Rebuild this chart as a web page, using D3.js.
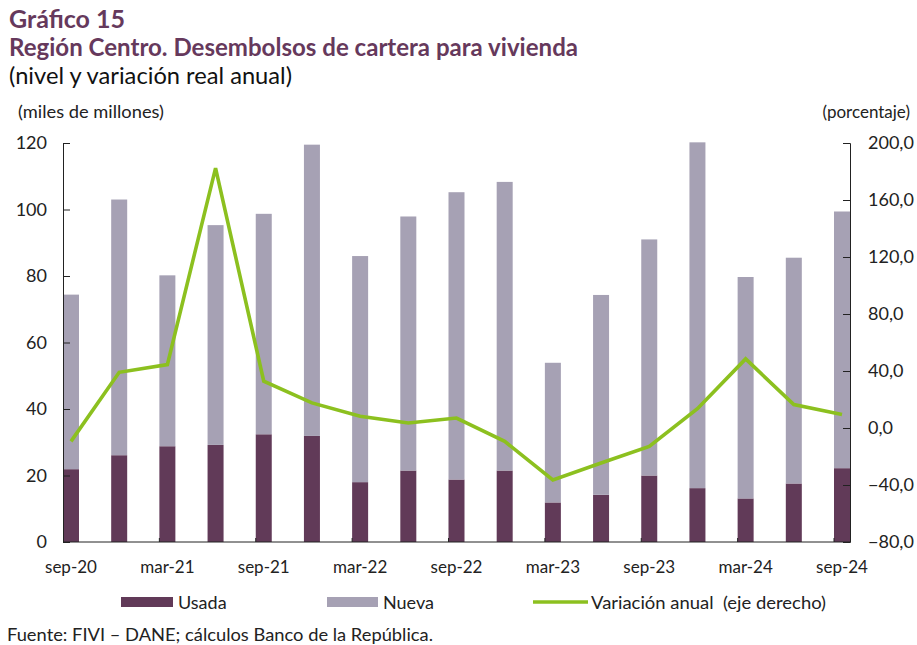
<!DOCTYPE html>
<html>
<head>
<meta charset="utf-8">
<script src="https://cdn.jsdelivr.net/npm/d3@7"></script>
<style>
  body { margin: 0; background: #fff; }
  svg text { font-family: Lato, "Open Sans", sans-serif; }
</style>
</head>
<body>
<div id="chart"></div>
<script>
const quarters = ["sep-20","dic-20","mar-21","jun-21","sep-21","dic-21","mar-22","jun-22","sep-22","dic-22","mar-23","jun-23","sep-23","dic-23","mar-24","jun-24","sep-24"];
const usada = [21.9, 26.1, 28.8, 29.2, 32.4, 31.9, 18.0, 21.5, 18.8, 21.5, 11.9, 14.2, 20.0, 16.2, 13.1, 17.6, 22.2];
const nueva = [52.5, 76.9, 51.4, 66.1, 66.3, 87.6, 68.0, 76.4, 86.4, 86.8, 42.0, 60.1, 71.0, 104.0, 66.6, 67.9, 77.2];
const variacion = [-9.4, 39.1, 44.5, 182.4, 32.8, 17.6, 8.2, 3.5, 7.0, -9.4, -36.4, -24.6, -12.9, 13.5, 48.5, 16.4, 9.4];
const leftTicks = [0, 20, 40, 60, 80, 100, 120];
const rightTicks = [-80, -40, 0, 40, 80, 120, 160, 200];

const colUsada = "#613a58", colNueva = "#a6a1b4", colLine = "#8cc01f", colTitle = "#66395c";

const width = 917, height = 645;
const svg = d3.select("#chart").append("svg")
    .attr("width", width)
    .attr("height", height);

const plot = { left: 63, right: 850, top: 143, bottom: 542 };

const x = d3.scalePoint()
    .domain(quarters)
    .range([plot.left, plot.right])
    .padding(0.166);
const barW = 16;

const y = d3.scaleLinear().domain([0, 120]).range([plot.bottom, plot.top]);
const y2 = d3.scaleLinear().domain([-80, 200]).range([plot.bottom, plot.top]);

// titles
svg.append("text").attr("x", 9).attr("y", 28)
    .attr("font-size", 24).attr("font-weight", "bold").attr("fill", colTitle)
    .attr("textLength", 116).attr("lengthAdjust", "spacingAndGlyphs")
    .text("Gráfico 15");
svg.append("text").attr("x", 9).attr("y", 56)
    .attr("font-size", 24).attr("font-weight", "bold").attr("fill", colTitle)
    .attr("textLength", 569).attr("lengthAdjust", "spacingAndGlyphs")
    .text("Región Centro. Desembolsos de cartera para vivienda");
svg.append("text").attr("x", 9).attr("y", 84)
    .attr("font-size", 23).attr("fill", "#111")
    .attr("textLength", 283).attr("lengthAdjust", "spacingAndGlyphs")
    .text("(nivel y variación real anual)");
svg.append("text").attr("x", 18).attr("y", 118)
    .attr("font-size", 17).attr("fill", "#222")
    .attr("textLength", 146).attr("lengthAdjust", "spacingAndGlyphs")
    .text("(miles de millones)");
svg.append("text").attr("x", 910).attr("y", 118).attr("text-anchor", "end")
    .attr("font-size", 17).attr("fill", "#222")
    .text("(porcentaje)");

// bars
const stackData = quarters.map((q, i) => ({ q, usada: usada[i], nueva: nueva[i] }));
const series = d3.stack().keys(["usada", "nueva"])(stackData);
const colors = { usada: colUsada, nueva: colNueva };

svg.append("g").selectAll("g")
    .data(series)
    .join("g")
    .attr("fill", d => colors[d.key])
    .selectAll("rect")
    .data(d => d)
    .join("rect")
    .attr("x", d => x(d.data.q) - barW / 2)
    .attr("width", barW)
    .attr("y", d => y(d[1]))
    .attr("height", d => y(d[0]) - y(d[1]));

// axes
const axisL = svg.append("g").attr("transform", `translate(${plot.left},0)`)
    .call(d3.axisLeft(y).tickValues(leftTicks).tickSize(-7).tickPadding(16).tickFormat(d3.format("d")));
const axisR = svg.append("g").attr("transform", `translate(${plot.right},0)`)
    .call(d3.axisRight(y2).tickValues(rightTicks).tickSize(-7).tickPadding(18)
        .tickFormat(d => d3.format(".1f")(d).replace(".", ",")));
[axisL, axisR].forEach(a => {
    a.select(".domain").attr("stroke", "#222");
    a.selectAll(".tick line").attr("stroke", "#222");
    a.selectAll("text").attr("font-size", 18).attr("fill", "#222")
        .style("font-family", "Lato, sans-serif");
});

// x axis baseline, ticks and labels
const xg = svg.append("g");
xg.append("line")
    .attr("x1", plot.left).attr("x2", plot.right)
    .attr("y1", plot.bottom).attr("y2", plot.bottom)
    .attr("stroke", "#222");
const labelled = quarters.filter((q, i) => i % 2 === 0);
xg.selectAll("line.tk")
    .data(labelled.slice(1))
    .join("line")
    .attr("class", "tk")
    .attr("x1", d => x(d) - barW / 2).attr("x2", d => x(d) - barW / 2)
    .attr("y1", plot.bottom).attr("y2", plot.bottom - 4)
    .attr("stroke", "#222");
xg.selectAll("text")
    .data(labelled)
    .join("text")
    .attr("x", d => x(d))
    .attr("y", plot.bottom + 31)
    .attr("text-anchor", "middle")
    .attr("font-size", 17)
    .attr("fill", "#222")
    .text(d => d);

// line
const line = d3.line()
    .x((d, i) => x(quarters[i]))
    .y(d => y2(d));
svg.append("path")
    .datum(variacion)
    .attr("fill", "none")
    .attr("stroke", colLine)
    .attr("stroke-width", 3.6)
    .attr("stroke-linejoin", "miter")
    .attr("d", line);

// legend
const lg = svg.append("g").attr("font-size", 18).attr("fill", "#222");
lg.append("rect").attr("x", 121).attr("y", 597).attr("width", 52).attr("height", 10).attr("fill", colUsada);
lg.append("text").attr("x", 178).attr("y", 609).text("Usada");
lg.append("rect").attr("x", 327).attr("y", 597).attr("width", 51).attr("height", 10).attr("fill", colNueva);
lg.append("text").attr("x", 383).attr("y", 609).text("Nueva");
lg.append("line").attr("x1", 533).attr("x2", 588).attr("y1", 602).attr("y2", 602)
    .attr("stroke", colLine).attr("stroke-width", 3.5);
lg.append("text").attr("x", 591).attr("y", 609).attr("xml:space", "preserve")
    .attr("textLength", 235).attr("lengthAdjust", "spacingAndGlyphs")
    .text("Variación anual  (eje derecho)");

svg.append("text").attr("x", 7).attr("y", 641)
    .attr("font-size", 17.5).attr("fill", "#222")
    .attr("textLength", 426).attr("lengthAdjust", "spacingAndGlyphs")
    .text("Fuente: FIVI – DANE; cálculos Banco de la República.");
</script>
</body>
</html>
